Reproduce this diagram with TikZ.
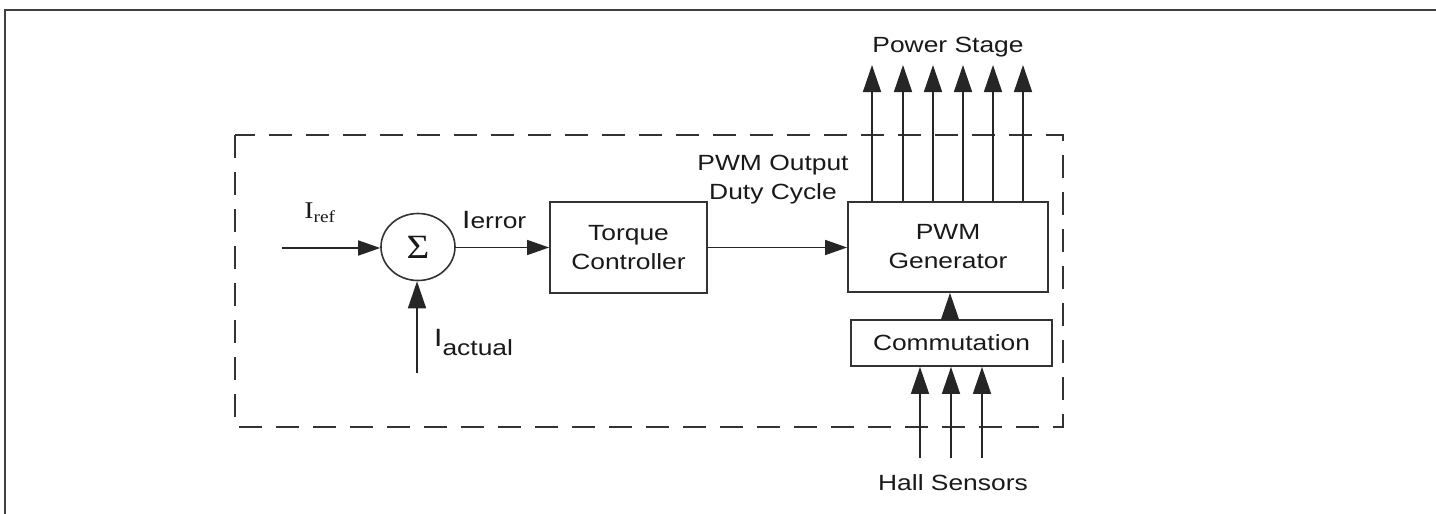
\documentclass[tikz,border=0pt]{standalone}
\usepackage{fontspec}
\setmainfont{Liberation Sans}[FakeStretch=1.2]
\newfontfamily\seriffam{Liberation Serif}[FakeStretch=1.15]
\usetikzlibrary{arrows.meta,shapes.geometric}
\begin{document}
\begin{tikzpicture}[x=1pt,y=-1pt,
  every node/.style={font=\fontsize{22}{29}\selectfont, text=black!90},
  blk/.style={draw=black!80, line width=1.8pt, rectangle, inner sep=0pt, align=center},
  sumnode/.style={draw=black!80, line width=1.6pt, ellipse, minimum width=74pt, minimum height=67pt, inner sep=0pt},
  conn/.style={draw=black!85, line width=1.6pt, -{Triangle[length=22pt,width=15pt]}},
  vconn/.style={draw=black!85, line width=1.6pt, -{Triangle[length=27pt,width=18pt]}},
  dashbox/.style={draw=black!80, line width=1.6pt, dash pattern=on 23pt off 14pt},
  frame/.style={draw=black!75, line width=2pt},
  lbl/.style={align=center, inner sep=0pt}
]
\useasboundingbox (0,0) rectangle (1436,514);
% outer frame (top and left only)
\coordinate (fbl) at (5,514);
\coordinate (ftl) at (5,9.5);
\coordinate (ftr) at (1436,9.5);
\draw[frame] (fbl) -- (ftl) -- (ftr);
% dashed enclosure
\coordinate (dtl) at (235,135);
\coordinate (dbr) at (1063,427);
\draw[dashbox] (dtl) rectangle (dbr);

% nodes
\node[sumnode] (sum) at (418,247) {\seriffam\fontsize{34}{34}\selectfont Σ};
\node[blk, minimum width=157pt, minimum height=91pt] (tc) at (628.5,247.5) {Torque\\Controller};
\node[blk, minimum width=200pt, minimum height=90pt] (pwm) at (948,247) {PWM\\Generator};
\node[blk, minimum width=201pt, minimum height=46pt] (com) at (951.5,343) {Commutation};

% inputs
\coordinate (iin) at (282,248);
\coordinate (iact) at (417,373);
\draw[conn] (iin) -- (iin -| sum.west);
\draw[vconn] (iact) -- (iact |- sum.south);
\draw[conn] (sum.east |- tc.west) -- (tc.west);
\draw[conn] (tc.east) -- (tc.east -| pwm.west);

% power stage outputs
\foreach \i/\x in {1/872,2/903,3/933,4/963,5/993,6/1023}{
  \coordinate (ps\i) at (\x,65);
  \draw[vconn] (ps\i |- pwm.north) -- (ps\i);
}
% commutation to pwm
\coordinate (cp) at (950,320);
\draw[vconn] (cp |- com.north) -- (cp |- pwm.south);
% hall sensors
\foreach \i/\x in {1/920,2/951,3/982}{
  \coordinate (h\i) at (\x,458);
  \draw[vconn] (h\i) -- (h\i |- com.south);
}

% labels
\node[lbl] (lps) at (948,47) {Power Stage};
\node[lbl] (lhs) at (953,483) {Hall Sensors};
\node[lbl] (lpwm) at (773,180) {PWM Output\\Duty Cycle};
\node[lbl] (lref) at (320,213) {\seriffam\fontsize{24}{24}\selectfont I\textsubscript{ref}};
\node[lbl, anchor=base west] (lerr) at (462,228) {\fontsize{25}{25}\selectfont I{\fontsize{22}{22}\selectfont error}};
\node[lbl, anchor=base west] (lact) at (434,346) {\fontsize{25}{25}\selectfont I\raisebox{-9pt}{\fontsize{22}{22}\selectfont actual}};
\end{tikzpicture}
\end{document}
